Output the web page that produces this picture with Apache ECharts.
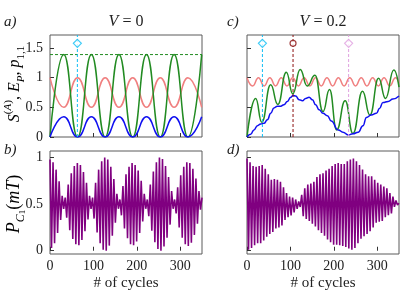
<!DOCTYPE html>
<html><head><meta charset="utf-8">
<script src="https://cdn.jsdelivr.net/npm/echarts@6/dist/echarts.min.js"></script>
<style>html,body{margin:0;padding:0;background:#fff}#c{width:420px;height:300px}</style>
</head><body><div id="c"></div>
<script>
// ---------- DATA ----------
// Panel a (V = 0): turning points (# of cycles) and series values there
const cyclesA = [0,31.75,63.5,95.25,127,158.75,190.5,222.25,254,285.75,317.5,349.25];
const entropyA = [0,1.39,0,1.39,0,1.39,0,1.39,0,1.39,0,1.39];
const energyA = [0,0.34,0,0.34,0,0.34,0,0.34,0,0.34,0,0.34];
const p11A = [1,0.5,1,0.5,1,0.5,1,0.5,1,0.5,1,0.5];
const maxEntropy = 1.39;
const markerA = 63;          // cycle of the marked minimum
const markerLevel = 1.58;    // height of marker symbols

// Panel c (V = 0.2): [cycle, value] pairs
const entropyC = [[0,0],[20,0.65],[34,0.25],[54.5,0.88],[71,0.55],[90.5,1.09],[105.5,0.73],[122.5,1.14],[138.5,0.86],[156.5,1.04],[175,0.43],[190,0.80],[206.5,0.12],[226,0.61],[244,0.06],[266,0.77],[283,0.37],[303,0.99],[319,0.65],[338,1.13],[350,0.84]];
const energyC = [[0,0],[8.5,0.045],[16,0.12],[24,0.19],[31.6,0.22],[39,0.23],[47,0.29],[54.6,0.40],[62,0.49],[70,0.52],[77.6,0.52],[85,0.545],[93,0.60],[100.7,0.67],[106,0.70],[112,0.69],[120,0.63],[127.6,0.61],[135,0.65],[143,0.67],[150.6,0.63],[158,0.545],[166,0.46],[175,0.40],[185,0.36],[194,0.27],[210,0.12],[221,0.08],[233,0.035],[244,0.055],[256,0.08],[267,0.19],[275,0.33],[286,0.37],[298,0.40],[305,0.48],[313,0.58],[325,0.60],[336,0.64],[350,0.69]];
const p11C = [[0,1],[13.15,0.86],[26.3,1],[39.45,0.86],[52.6,1],[65.75,0.86],[78.9,1],[92.05,0.86],[105.2,1],[118.35,0.86],[131.5,1],[144.65,0.86],[157.8,1],[170.95,0.86],[184.1,1],[197.25,0.86],[210.4,1],[223.55,0.86],[236.7,1],[249.85,0.86],[263,1],[276.15,0.86],[289.3,1],[302.45,0.86],[315.6,1],[328.75,0.86],[341.9,1],[350,0.91]];
const markersC = [35.5, 106, 234];

// Panels b, d: P_C1 fast oscillation, peak values every 7 cycles and dips in between
const peaksB = [0.98,0.95,0.87,0.745,0.59,0.57,0.71,0.83,0.91,0.94,0.92,0.845,0.73,0.59,0.57,0.73,0.87,0.96,1.0,0.98,0.9,0.77,0.61,0.55,0.695,0.82,0.9,0.94,0.92,0.86,0.75,0.61,0.55,0.71,0.85,0.95,1.0,0.985,0.91,0.79,0.64,0.55,0.68,0.81,0.9,0.95,0.94,0.88,0.775,0.64,0.57];
const dipsB = [0.03,0.08,0.19,0.33,0.45,0.355,0.22,0.125,0.07,0.06,0.115,0.21,0.335,0.45,0.345,0.195,0.08,0.01,0.0,0.055,0.16,0.3,0.45,0.38,0.24,0.135,0.07,0.06,0.1,0.19,0.315,0.45,0.37,0.215,0.09,0.02,0.0,0.045,0.14,0.28,0.45,0.4,0.25,0.14,0.07,0.05,0.085,0.17,0.29,0.44];
const peaksD = [0.99,0.95,0.91,0.90,0.91,0.92,0.88,0.82,0.76,0.77,0.76,0.74,0.68,0.62,0.58,0.57,0.55,0.53,0.60,0.67,0.71,0.72,0.74,0.79,0.82,0.83,0.86,0.88,0.91,0.93,0.94,0.93,0.93,0.96,0.98,0.99,0.96,0.92,0.87,0.82,0.80,0.80,0.76,0.73,0.71,0.69,0.67,0.62,0.58,0.54,0.51];
const dipsD = [0.01,0.03,0.06,0.08,0.08,0.11,0.15,0.18,0.20,0.24,0.25,0.27,0.33,0.36,0.38,0.41,0.45,0.47,0.37,0.34,0.32,0.29,0.26,0.22,0.19,0.16,0.12,0.09,0.065,0.065,0.06,0.05,0.04,0.025,0.01,0.03,0.08,0.13,0.155,0.18,0.21,0.25,0.30,0.31,0.32,0.36,0.38,0.40,0.47,0.49];
const halfStep = 3.5; // cycles between a peak sample and the next dip sample

// tick labels
const xTicks = [0,100,200,300];
const yTicksTop = [0,0.5,1,1.5];
const yTicksBottom = [0,0.5,1];

// ---------- STYLE ----------
const SERIF = "'Liberation Serif','DejaVu Serif',serif";
const GREEN = '#228b22', BLUE = '#1010f0', PINK = '#f08080', PURPLE = '#800080';
const CYAN = '#10bff5', DARKRED = '#8b1010', VIOLET = '#e0a0e0';

const chart = echarts.init(document.getElementById('c'), null, {renderer:'canvas'});

const grids = [
  {left:50, top:35, width:152, height:102},
  {left:247, top:35, width:152, height:102},
  {left:50, top:151, width:152, height:103},
  {left:247, top:151, width:152, height:103}
].map(g => Object.assign({show:true, borderColor:'#5a5a5a', borderWidth:1, backgroundColor:'transparent'}, g));

function xAx(gi, showLabels){
  return {type:'value', gridIndex:gi, min:0, max:350,
    axisLine:{show:false}, splitLine:{show:false},
    axisTick:{show:true, inside:true, length:4, lineStyle:{color:'#333', width:1}, customValues:xTicks},
    axisLabel:{show:showLabels, customValues:xTicks, fontFamily:SERIF, fontSize:14, color:'#222', margin:5}};
}
function yAx(gi, min, max, ticks, showLabels){
  return {type:'value', gridIndex:gi, min:min, max:max,
    axisLine:{show:false}, splitLine:{show:false},
    axisTick:{show:true, inside:true, length:4, lineStyle:{color:'#333', width:1}, customValues:ticks},
    axisLabel:{show:showLabels, customValues:ticks, fontFamily:SERIF, fontSize:14, color:'#222', margin:7}};
}
function line(gi, data, color, width, extra){
  return Object.assign({type:'line', xAxisIndex:gi, yAxisIndex:gi, data:data, showSymbol:false, symbol:'none',
    smooth:0.5, smoothMonotone:'x', lineStyle:{color:color, width:width}, silent:true, animation:false}, extra||{});
}
function vline(gi, x, top, color){
  return {type:'line', xAxisIndex:gi, yAxisIndex:gi, data:[[x,0],[x,top]], showSymbol:false, symbol:'none',
    lineStyle:{color:color, width:1, type:[3,2]}, silent:true, animation:false, z:4};
}
function marker(gi, x, y, symbol, size, color){
  return {type:'scatter', xAxisIndex:gi, yAxisIndex:gi, data:[[x,y]], symbol:symbol, symbolSize:size,
    itemStyle:{color:'#fff', borderColor:color, borderWidth:1.2}, silent:true, animation:false, z:5};
}
function zigzag(peaks, dips){
  const out = [];
  peaks.forEach((v,i) => { out.push([i*2*halfStep, v]); if (i < dips.length) out.push([i*2*halfStep+halfStep, dips[i]]); });
  return out;
}
const pairs = (xs, ys) => xs.map((x,i) => [x, ys[i]]);

const series = [
  line(0, pairs(cyclesA, p11A), PINK, 1.5),
  line(0, pairs(cyclesA, entropyA), GREEN, 1.5),
  line(0, pairs(cyclesA, energyA), BLUE, 1.5),
  line(0, [[0,maxEntropy],[350,maxEntropy]], GREEN, 1, {smooth:false, lineStyle:{color:GREEN, width:1, type:[3,2]}}),
  vline(0, markerA, 1.72, CYAN),
  marker(0, markerA, markerLevel, 'diamond', 8, CYAN),

  line(1, p11C, PINK, 1.5),
  line(1, entropyC, GREEN, 1.5),
  line(1, energyC, BLUE, 1.5),
  vline(1, markersC[0], 1.72, CYAN),
  vline(1, markersC[1], 1.72, DARKRED),
  vline(1, markersC[2], 1.72, VIOLET),
  marker(1, markersC[0], markerLevel, 'diamond', 8, CYAN),
  marker(1, markersC[1], markerLevel, 'circle', 6, DARKRED),
  marker(1, markersC[2], markerLevel, 'diamond', 8, VIOLET),

  line(2, zigzag(peaksB, dipsB), PURPLE, 1.6, {smooth:false}),
  line(3, zigzag(peaksD, dipsD), PURPLE, 1.6, {smooth:false})
];

const it = {fontFamily:SERIF, fontStyle:'italic'};
function txt(x, y, text, rich, opts){
  return {type:'text', x:x, y:y, silent:true,
    style:Object.assign({text:text, rich:rich, fontFamily:SERIF, fontSize:15, fill:'#222', align:'left', verticalAlign:'middle'}, opts||{})};
}
const titleRich = {i:Object.assign({fontSize:16, color:'#222', lineHeight:20}, it), r:{fontFamily:SERIF, fontSize:16, color:'#222', lineHeight:20}};
const panelRich = {i:Object.assign({fontSize:15, color:'#222'}, it)};

const yLabelA = {type:'text', x:15, y:84, rotation:Math.PI/2, silent:true,
  style:{text:'{g|S}{gs|(}{gsi|A}{gs|)}{k|, }{b|E}{bs|P}{k|, }{p|p}{ps|1,1}', align:'center', verticalAlign:'middle',
    rich:{
      g:Object.assign({fontSize:16, color:GREEN, lineHeight:24}, it),
      gs:{fontFamily:SERIF, fontSize:11, color:GREEN, verticalAlign:'top'},
      gsi:Object.assign({fontSize:11, color:GREEN, verticalAlign:'top'}, it),
      k:{fontFamily:SERIF, fontSize:16, color:'#555', lineHeight:24},
      b:Object.assign({fontSize:16, color:BLUE, lineHeight:24}, it),
      bs:Object.assign({fontSize:11, color:BLUE, verticalAlign:'bottom'}, it),
      p:Object.assign({fontSize:16, color:PINK, lineHeight:24}, it),
      ps:{fontFamily:SERIF, fontSize:11, color:PINK, verticalAlign:'bottom'}
    }}};
const yLabelB = {type:'text', x:14, y:204, rotation:Math.PI/2, silent:true,
  style:{text:'{m|P}{s|C}{ss|1}{n|(}{m|mT}{n|)}', align:'center', verticalAlign:'middle',
    rich:{
      m:Object.assign({fontSize:18, color:'#222', lineHeight:26}, it),
      s:Object.assign({fontSize:12, color:'#222', verticalAlign:'bottom'}, it),
      ss:{fontFamily:SERIF, fontSize:9, color:'#222', verticalAlign:'bottom'},
      n:{fontFamily:SERIF, fontSize:18, color:'#222', lineHeight:26}
    }}};

const graphics = [
  txt(4, 22, '{i|a)}', panelRich),
  txt(227, 22, '{i|c)}', panelRich),
  txt(4, 150, '{i|b)}', panelRich),
  txt(227, 150, '{i|d)}', panelRich),
  txt(126, 22, '{i|V}{r| = 0}', titleRich, {align:'center'}),
  txt(323, 22, '{i|V}{r| = 0.2}', titleRich, {align:'center'}),
  txt(126, 283, '# of cycles', null, {align:'center', fontSize:15}),
  txt(323, 283, '# of cycles', null, {align:'center', fontSize:15}),
  yLabelA, yLabelB
];

chart.setOption({
  animation:false,
  backgroundColor:'#fff',
  grid:grids,
  xAxis:[xAx(0,false), xAx(1,false), xAx(2,true), xAx(3,true)],
  yAxis:[yAx(0,0,1.72,yTicksTop,true), yAx(1,0,1.72,yTicksTop,false), yAx(2,-0.035,1.07,yTicksBottom,true), yAx(3,-0.035,1.07,yTicksBottom,false)],
  series:series,
  graphic:graphics
});
</script></body></html>
